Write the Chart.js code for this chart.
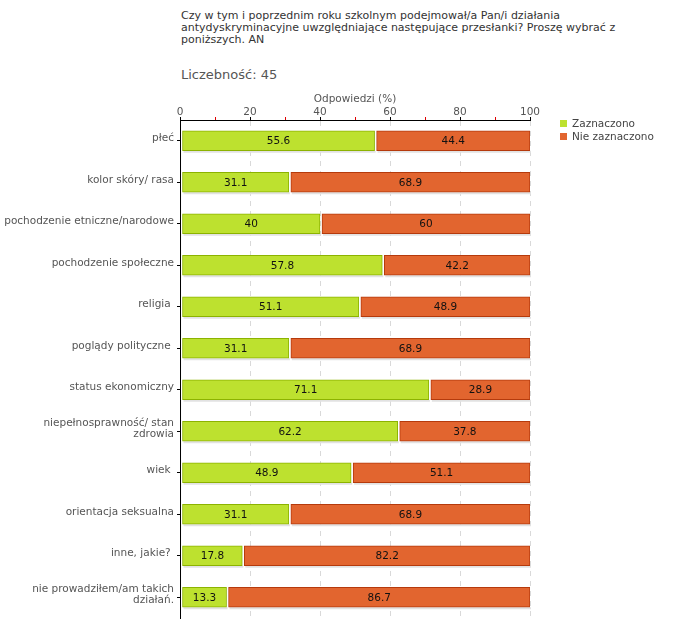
<!DOCTYPE html>
<html>
<head>
<meta charset="utf-8">
<script src="https://cdn.jsdelivr.net/npm/chart.js@4.4.1/dist/chart.umd.min.js"></script>
<style>
    body { margin: 0; background: #fff; font-family: "DejaVu Sans", Verdana, sans-serif; }
    #wrap { position: relative; width: 680px; height: 640px; }
    #question { position: absolute; left: 181px; top: 10px; font-size: 11px; line-height: 12px; color: #333; white-space: nowrap; }
    #count { position: absolute; left: 181px; top: 67px; font-size: 13px; color: #555; white-space: nowrap; }
    #legend { position: absolute; left: 560px; top: 117px; font-size: 10.5px; color: #444; line-height: 13px; }
    #legend span.box { display: inline-block; width: 7px; height: 7px; margin-right: 5px; vertical-align: 0; }
    canvas { position: absolute; left: 0; top: 0; }
</style>
</head>
<body>
<div id="wrap">
    <div id="question">Czy w tym i poprzednim roku szkolnym podejmował/a Pan/i działania<br>antydyskryminacyjne uwzględniające następujące przesłanki? Proszę wybrać z<br>poniższych. AN</div>
    <div id="count">Liczebność: 45</div>
    <canvas id="chart" width="680" height="640"></canvas>
    <div id="legend"></div>
</div>
<script>
// Values (percent of 45 answers)
const categories = [
    "płeć",
    "kolor skóry/ rasa",
    "pochodzenie etniczne/narodowe",
    "pochodzenie społeczne",
    "religia ",
    "poglądy polityczne ",
    "status ekonomiczny",
    ["niepełnosprawność/ stan", "zdrowia"],
    "wiek ",
    "orientacja seksualna",
    "inne, jakie? ",
    ["nie prowadziłem/am takich", "działań."],
];
const markedValues = [55.6, 31.1, 40, 57.8, 51.1, 31.1, 71.1, 62.2, 48.9, 31.1, 17.8, 13.3];
const unmarkedValues = [44.4, 68.9, 60, 42.2, 48.9, 68.9, 28.9, 37.8, 51.1, 68.9, 82.2, 86.7];
const seriesNames = ["Zaznaczono", "Nie zaznaczono"];
const xTicks = [0, 20, 40, 60, 80, 100];

const FONT = { family: "'DejaVu Sans', Verdana, sans-serif", size: 10.5 };
const LABEL_COLOR = "#555";
const GREEN = "#bde12f";
const GREEN_EDGE = "#8cb300";
const ORANGE = "#e2652f";
const ORANGE_EDGE = "#b53a0c";

// small white gap on the left of each segment, like the original renderer
const segmentGapPlugin = {
    id: "segmentGap",
    afterDatasetsUpdate(chart) {
        chart.data.datasets.forEach((ds, i) => {
            chart.getDatasetMeta(i).data.forEach((bar) => { bar.base += 2; });
        });
    },
};

// thin grey shadow under every segment
const barShadowPlugin = {
    id: "barShadow",
    beforeDatasetsDraw(chart) {
        const { ctx } = chart;
        ctx.save();
        ctx.fillStyle = "#e2e2e2";
        chart.data.datasets.forEach((ds, i) => {
            chart.getDatasetMeta(i).data.forEach((bar) => {
                const left = Math.min(bar.x, bar.base);
                ctx.fillRect(left + 1, bar.y + bar.height / 2, Math.abs(bar.x - bar.base), 2);
            });
        });
        ctx.restore();
    },
};

// value printed in the middle of each segment
const valueLabelsPlugin = {
    id: "valueLabels",
    afterDatasetsDraw(chart) {
        const { ctx } = chart;
        ctx.save();
        ctx.font = `${FONT.size}px ${FONT.family}`;
        ctx.fillStyle = "#111";
        ctx.textAlign = "center";
        ctx.textBaseline = "middle";
        chart.data.datasets.forEach((ds, i) => {
            chart.getDatasetMeta(i).data.forEach((bar, index) => {
                ctx.fillText(String(ds.data[index]), (bar.x + bar.base) / 2, bar.y + 1);
            });
        });
        ctx.restore();
    },
};

const chart = new Chart(document.getElementById("chart"), {
    type: "bar",
    data: {
        labels: categories,
        datasets: [
            { label: seriesNames[0], data: markedValues, backgroundColor: GREEN, borderColor: GREEN_EDGE },
            { label: seriesNames[1], data: unmarkedValues, backgroundColor: ORANGE, borderColor: ORANGE_EDGE },
        ],
    },
    options: {
        indexAxis: "y",
        responsive: false,
        animation: false,
        layout: { padding: { top: 85, right: 150, bottom: 22, left: 0 } },
        datasets: { bar: { barThickness: 20, borderWidth: 1, borderSkipped: false } },
        scales: {
            x: {
                position: "top",
                stacked: true,
                min: 0,
                max: 100,
                afterFit: (scale) => { scale.height = 35; },
                ticks: {
                    stepSize: 10,
                    autoSkip: false,
                    maxRotation: 0,
                    padding: -2,
                    color: LABEL_COLOR,
                    font: FONT,
                    callback: (v) => (xTicks.includes(v) ? v : ""),
                },
                grid: {
                    color: (c) => (c.tick && c.tick.value > 0 && xTicks.includes(c.tick.value) ? "#d9d9d9" : "rgba(0,0,0,0)"),
                    tickColor: (c) => (c.tick && xTicks.includes(c.tick.value) ? "#000" : "#e00000"),
                    tickLength: 3,
                },
                border: { color: "#000", dash: [5, 5] },
                title: { display: true, text: "Odpowiedzi (%)", color: LABEL_COLOR, font: FONT, padding: { top: 8, bottom: 0 } },
            },
            y: {
                stacked: true,
                afterFit: (scale) => { scale.width = 180; },
                ticks: { color: LABEL_COLOR, font: { ...FONT, lineHeight: 1.05 }, padding: 3, autoSkip: false, labelOffset: -2 },
                grid: { offset: false, drawOnChartArea: false, tickLength: 3, tickColor: "#000" },
                border: { color: "#000" },
            },
        },
        plugins: { legend: { display: false }, tooltip: { enabled: false } },
    },
    plugins: [segmentGapPlugin, barShadowPlugin, valueLabelsPlugin],
});

// legend in the right margin, same look as the original
const legendColors = [GREEN, ORANGE];
document.getElementById("legend").innerHTML = seriesNames
    .map((name, i) => `<div><span class="box" style="background:${legendColors[i]}"></span>${name}</div>`)
    .join("");
</script>
</body>
</html>
